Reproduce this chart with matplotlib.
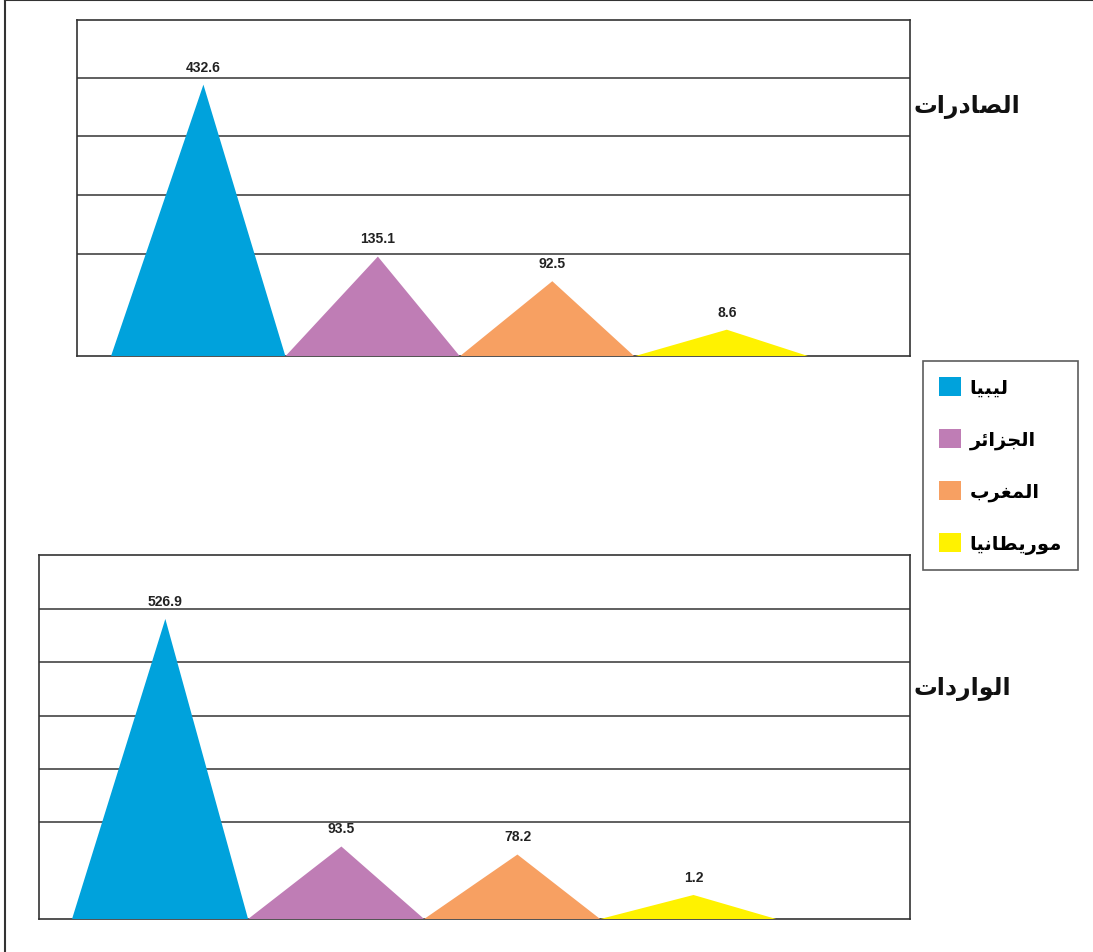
import matplotlib.pyplot as plt
from matplotlib.patches import Patch
from matplotlib.lines import Line2D

countries = ["ليبيا", "الجزائر", "المغرب", "موريطانيا"]
exports = [432.6, 135.1, 92.5, 8.6]
imports = [526.9, 93.5, 78.2, 1.2]
colors = ["#00a2dc", "#bf7db5", "#f7a062", "#fff200"]

# joining forms: isolated, final, initial, medial
forms = {
    "ا": "\ufe8d\ufe8e", "د": "\ufea9\ufeaa", "ر": "\ufead\ufeae",
    "ز": "\ufeaf\ufeb0", "و": "\ufeed\ufeee",
    "ب": "\ufe8f\ufe90\ufe91\ufe92", "ت": "\ufe95\ufe96\ufe97\ufe98",
    "ج": "\ufe9d\ufe9e\ufe9f\ufea0", "ص": "\ufeb9\ufeba\ufebb\ufebc",
    "ط": "\ufec1\ufec2\ufec3\ufec4", "غ": "\ufecd\ufece\ufecf\ufed0",
    "ل": "\ufedd\ufede\ufedf\ufee0", "م": "\ufee1\ufee2\ufee3\ufee4",
    "ن": "\ufee5\ufee6\ufee7\ufee8", "ي": "\ufef1\ufef2\ufef3\ufef4",
    "ئ": "\ufe89\ufe8a\ufe8b\ufe8c",
}


def ar(word):
    # shape letters and put them in visual (right to left) order
    out = []
    for i, ch in enumerate(word):
        f = forms.get(ch)
        if f is None:
            out.append(ch)
            continue
        prev = word[i - 1] if i > 0 else None
        nxt = word[i + 1] if i + 1 < len(word) else None
        join_prev = prev is not None and len(forms.get(prev, "")) == 4
        join_next = len(f) == 4 and nxt is not None and nxt in forms
        if join_prev and join_next:
            out.append(f[3])
        elif join_prev:
            out.append(f[1])
        elif join_next:
            out.append(f[2])
        else:
            out.append(f[0])
    return "".join(reversed(out))


fig = plt.figure(figsize=(10.93, 9.53), dpi=100)

panels = [
    # axes rect, values, title, y limits, x limits, title y
    ([0.0704, 0.6251, 0.7621, 0.3532], exports, "الصادرات", (-37.4, 545), (-0.695, 4.08), 0.888),
    ([0.0357, 0.0346, 0.7969, 0.3820], imports, "الواردات", (-44.6, 648.7), (-0.6875, 4.26), 0.277),
]
grid_vals = [140, 241.5, 343, 444.5, 546]
peak_shift = 0.03

for rect, vals, title, ylim, xlim, ty in panels:
    ax = fig.add_axes(rect)
    base = ylim[0]
    for i, v in enumerate(vals):
        px = i + peak_shift
        ax.fill([i - 0.5, px, i + 0.5], [base, v, base], color=colors[i], lw=0, zorder=3)
        ax.annotate(f"{v}", (px, v), xytext=(0, 8), textcoords="offset points",
                    ha="center", va="bottom", fontsize=10, fontweight="bold",
                    family="Liberation Sans", color="#222222", zorder=4)
    for g in grid_vals:
        if g < ylim[1]:
            ax.axhline(g, color="#444444", lw=1.2, zorder=1)
    ax.set_xlim(*xlim)
    ax.set_ylim(*ylim)
    ax.set_xticks([])
    ax.set_yticks([])
    for s in ax.spines.values():
        s.set_color("#333333")
        s.set_linewidth(1.2)
    fig.text(0.836, ty, ar(title), fontsize=17, fontweight="bold",
             family="DejaVu Sans", ha="left", va="center", color="#111111")

handles = [Patch(facecolor=c, edgecolor="none") for c in colors]
leg = fig.legend(handles, [ar(c) for c in countries], loc="upper left",
                 bbox_to_anchor=(0.8445, 0.6201), borderaxespad=0,
                 frameon=True, fancybox=False,
                 prop={"family": "DejaVu Sans", "weight": "bold", "size": 14},
                 handlelength=1.15, handleheight=1.15, handletextpad=0.45,
                 labelspacing=1.63, borderpad=0.8)
leg.get_frame().set_edgecolor("#333333")
leg.get_frame().set_linewidth(1.2)

# outer frame along the top and left edges
fig.add_artist(Line2D([0.0046, 1.0], [0.9985, 0.9985], color="#333333", lw=1.5))
fig.add_artist(Line2D([0.0046, 0.0046], [0.0, 0.9985], color="#333333", lw=1.5))

fig.savefig("out.png", dpi=100)
